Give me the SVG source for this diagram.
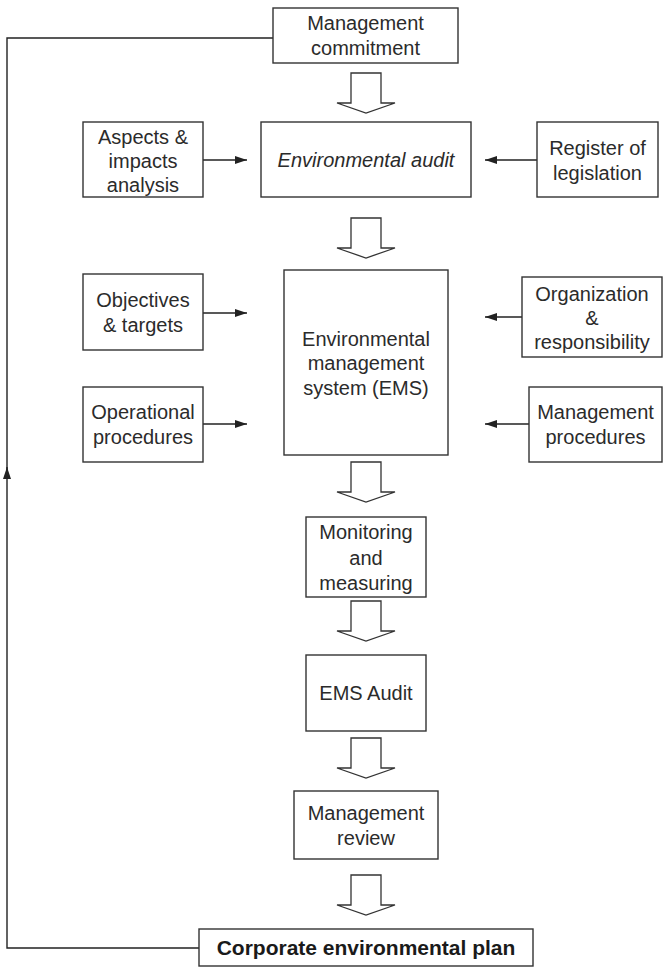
<svg xmlns="http://www.w3.org/2000/svg" width="665" height="969" viewBox="0 0 665 969">
  <style>
    .box { fill: #ffffff; stroke: #333333; stroke-width: 1.4; }
    .lbl { font-family: "Liberation Sans", Arial, sans-serif; font-size: 20px; fill: #2b2b2b; text-anchor: middle; }
    .it { font-style: italic; }
    .bold { font-weight: bold; font-size: 21px; fill: #1a1a1a; }
    .line { fill: none; stroke: #222222; stroke-width: 1.4; }
    .flow { fill: #ffffff; stroke: #333333; stroke-width: 1.3; stroke-linejoin: miter; }
  </style>
  <defs>
    <marker id="head" viewBox="0 0 12 8" refX="12" refY="4" markerWidth="12" markerHeight="8" markerUnits="userSpaceOnUse" orient="auto">
      <path d="M0,0 L12,4 L0,8 Z" fill="#222222"/>
    </marker>
    <!-- hollow block arrow, top of shaft at y=0, tip at y=40 -->
    <path id="block" d="M-15,0 H15 V30 H29 L0,40 L-29,30 H-15 Z"/>
  </defs>

  <g id="connectors">
    <!-- feedback loop from the plan back to commitment -->
    <path class="line" d="M199,948 H7 V467" marker-end="url(#head)"/>
    <path class="line" d="M7,470 V38 H273"/>
    <!-- side inputs -->
    <path class="line" d="M203,160 H247" marker-end="url(#head)"/>
    <path class="line" d="M537,160 H485" marker-end="url(#head)"/>
    <path class="line" d="M203,313 H247" marker-end="url(#head)"/>
    <path class="line" d="M522,317 H485" marker-end="url(#head)"/>
    <path class="line" d="M203,424 H247" marker-end="url(#head)"/>
    <path class="line" d="M529,424 H485" marker-end="url(#head)"/>
    <!-- main flow block arrows -->
    <use href="#block" class="flow" x="366" y="73"/>
    <use href="#block" class="flow" x="366" y="218"/>
    <use href="#block" class="flow" x="366" y="462"/>
    <use href="#block" class="flow" x="366" y="601"/>
    <use href="#block" class="flow" x="366" y="738"/>
    <use href="#block" class="flow" x="366" y="875"/>
  </g>

  <g id="management-commitment">
    <rect class="box" x="273" y="8" width="185" height="55"/>
    <text class="lbl" x="365.5" y="30">Management</text>
    <text class="lbl" x="365.5" y="55">commitment</text>
  </g>

  <g id="aspects-impacts">
    <rect class="box" x="83" y="122" width="120" height="75"/>
    <text class="lbl" x="143" y="144">Aspects &amp;</text>
    <text class="lbl" x="143" y="168">impacts</text>
    <text class="lbl" x="143" y="192">analysis</text>
  </g>

  <g id="environmental-audit">
    <rect class="box" x="261" y="122" width="210" height="75"/>
    <text class="lbl it" x="366" y="167">Environmental audit</text>
  </g>

  <g id="register-legislation">
    <rect class="box" x="537" y="122" width="121" height="75"/>
    <text class="lbl" x="597.5" y="155">Register of</text>
    <text class="lbl" x="597.5" y="180">legislation</text>
  </g>

  <g id="objectives-targets">
    <rect class="box" x="83" y="274" width="120" height="76"/>
    <text class="lbl" x="143" y="307">Objectives</text>
    <text class="lbl" x="143" y="332">&amp; targets</text>
  </g>

  <g id="operational-procedures">
    <rect class="box" x="83" y="387" width="120" height="75"/>
    <text class="lbl" x="143" y="419">Operational</text>
    <text class="lbl" x="143" y="444">procedures</text>
  </g>

  <g id="ems">
    <rect class="box" x="284" y="270" width="164" height="185"/>
    <text class="lbl" x="366" y="346">Environmental</text>
    <text class="lbl" x="366" y="370">management</text>
    <text class="lbl" x="366" y="395">system (EMS)</text>
  </g>

  <g id="organization-responsibility">
    <rect class="box" x="522" y="277" width="140" height="80"/>
    <text class="lbl" x="592" y="301">Organization</text>
    <text class="lbl" x="592" y="325">&amp;</text>
    <text class="lbl" x="592" y="349">responsibility</text>
  </g>

  <g id="management-procedures">
    <rect class="box" x="529" y="387" width="133" height="75"/>
    <text class="lbl" x="595.5" y="419">Management</text>
    <text class="lbl" x="595.5" y="444">procedures</text>
  </g>

  <g id="monitoring-measuring">
    <rect class="box" x="306" y="517" width="120" height="80"/>
    <text class="lbl" x="366" y="539">Monitoring</text>
    <text class="lbl" x="366" y="565">and</text>
    <text class="lbl" x="366" y="590">measuring</text>
  </g>

  <g id="ems-audit">
    <rect class="box" x="306" y="655" width="120" height="76"/>
    <text class="lbl" x="366" y="700">EMS Audit</text>
  </g>

  <g id="management-review">
    <rect class="box" x="294" y="791" width="144" height="68"/>
    <text class="lbl" x="366" y="820">Management</text>
    <text class="lbl" x="366" y="845">review</text>
  </g>

  <g id="corporate-plan">
    <rect class="box" x="199" y="929" width="334" height="37"/>
    <text class="lbl bold" x="366" y="955">Corporate environmental plan</text>
  </g>
</svg>
